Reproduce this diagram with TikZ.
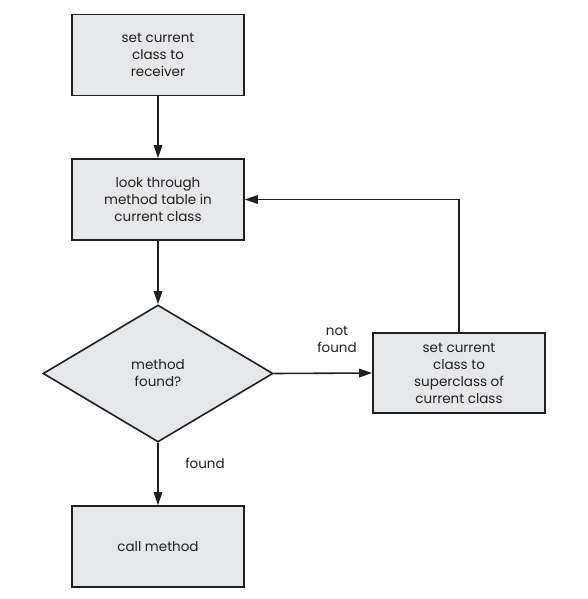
\documentclass[tikz,border=0pt]{standalone}
\usepackage{fontspec}
\setmainfont{Poppins}
\usetikzlibrary{shapes.geometric,arrows.meta}
\definecolor{boxfill}{HTML}{E6E7E8}
\definecolor{ink}{HTML}{231F20}
\begin{document}
\begin{tikzpicture}[x=1pt,y=-1pt,
  every node/.style={font=\fontsize{13.5}{17}\selectfont, text=ink},
  procbox/.style={draw=ink, line width=1.6pt, fill=boxfill, minimum width=172pt, minimum height=81pt, align=center, inner sep=0pt},
  decide/.style={draw=ink, line width=1.6pt, fill=boxfill, diamond, minimum width=230pt, minimum height=137pt, align=center, inner sep=0pt},
  flow/.style={draw=ink, line width=1.6pt, -{Triangle[length=13pt,width=8.5pt]}},
  lbl/.style={align=center}]
\useasboundingbox (0,0) rectangle (588,599);
\node[procbox] (set) at (158,55) {set current\\class to\\receiver};
\node[procbox] (look) at (158,199.5) {look through\\method table in\\current class};
\node[decide] (found) at (158,373.5) {method\\found?};
\node[procbox, minimum height=80pt] (super) at (459,373) {set current\\class to\\superclass of\\current class};
\node[procbox] (call) at (158,546.5) {call method};
\draw[flow] (set) -- (look);
\draw[flow] (look) -- (found);
\draw[flow] (found.east) -- (super.west);
\draw[flow] (super.north) |- (look.east);
\draw[flow] (found.south) -- (call.north);
\node[lbl] (nf) at (337,339) {not\\found};
\node[lbl] (fd) at (205,463) {found};
\end{tikzpicture}
\end{document}
